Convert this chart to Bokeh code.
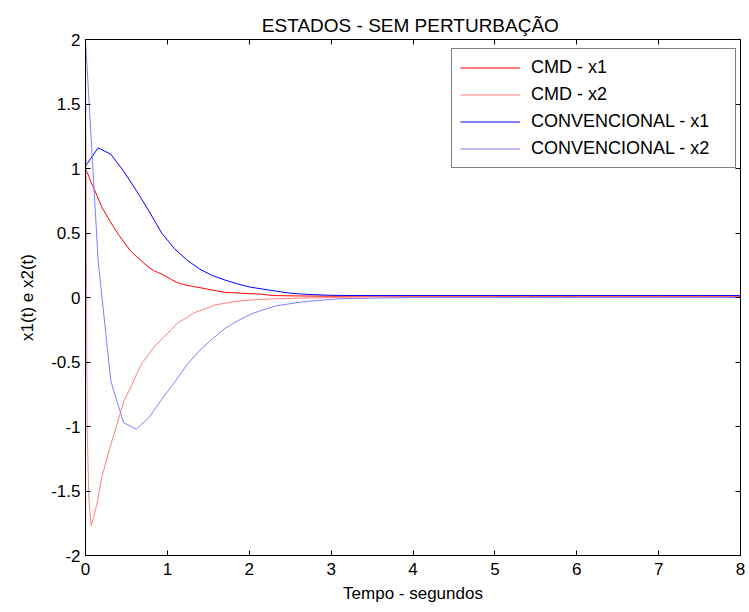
from bokeh.plotting import figure
from bokeh.models import Range1d, FixedTicker, LinearAxis, Legend, LegendItem
from bokeh.embed import file_html
from bokeh.resources import INLINE

# ---------------- data ----------------
conv_t = [0, 0.155, 0.31, 0.465, 0.62, 0.775, 0.93, 1.085, 1.24, 1.395, 1.55, 1.705,
          1.86, 2.015, 2.17, 2.325, 2.48, 2.635, 2.79, 2.945, 3.1, 3.5, 4.0, 4.5, 5.0,
          5.5, 6.0, 6.5, 7.0, 7.5, 8.0]
conv_x1 = [1.02, 1.16, 1.11, 0.98, 0.83, 0.67, 0.50, 0.38, 0.29, 0.22, 0.17, 0.135,
           0.105, 0.08, 0.065, 0.05, 0.035, 0.027, 0.022, 0.018, 0.016, 0.015, 0.015,
           0.015, 0.015, 0.015, 0.015, 0.015, 0.015, 0.015, 0.015]
conv_x2 = [2.0, 0.28, -0.65, -0.97, -1.02, -0.93, -0.79, -0.66, -0.52, -0.41, -0.32,
           -0.24, -0.18, -0.13, -0.095, -0.065, -0.05, -0.035, -0.025, -0.017, -0.01,
           -0.005, 0.0, 0.0, 0.0, 0.0, 0.0, 0.0, 0.0, 0.0, 0.0]

cmd_t = [0, 0.02, 0.04, 0.07, 0.1, 0.14, 0.2, 0.3, 0.4, 0.47, 0.55, 0.62, 0.69, 0.76,
         0.83, 0.95, 1.05, 1.12, 1.2, 1.32, 1.45, 1.57, 1.7, 1.85, 2.0, 2.15, 2.3, 2.6,
         3.0, 3.5, 4.0, 4.5, 5.0, 5.4, 5.5, 5.8, 6.0, 6.5, 7.0, 7.5, 8.0]
cmd_x1 = [1.0, 0.97, 0.94, 0.89, 0.85, 0.79, 0.70, 0.59, 0.49, 0.43, 0.36, 0.32, 0.28,
          0.24, 0.21, 0.175, 0.14, 0.115, 0.10, 0.085, 0.07, 0.055, 0.04, 0.035, 0.03,
          0.025, 0.015, 0.012, 0.01, 0.01, 0.01, 0.01, 0.01, 0.005, 0.01, 0.005, 0.01,
          0.01, 0.01, 0.01, 0.01]
cmd_x2 = [2.0, -1.0, -1.55, -1.77, -1.70, -1.60, -1.39, -1.16, -0.95, -0.80, -0.70,
          -0.60, -0.51, -0.45, -0.39, -0.31, -0.25, -0.20, -0.17, -0.12, -0.09, -0.06,
          -0.045, -0.03, -0.02, -0.015, -0.01, -0.005, 0.0, 0.005, 0.005, 0.005, 0.005,
          0.005, 0.005, 0.005, 0.005, 0.005, 0.005, 0.005, 0.005]

x_ticks = [0, 1, 2, 3, 4, 5, 6, 7, 8]
x_tick_labels = ["0", "1", "2", "3", "4", "5", "6", "7", "8"]
y_ticks = [-2, -1.5, -1, -0.5, 0, 0.5, 1, 1.5, 2]
y_tick_labels = ["-2", "-1.5", "-1", "-0.5", "0", "0.5", "1", "1.5", "2"]

series_names = ["CMD - x1", "CMD - x2", "CONVENCIONAL - x1", "CONVENCIONAL - x2"]
series_colors = ["#ff0000", "#ff8080", "#0000ff", "#8080ff"]

FONT = "Liberation Sans"

p = figure(width=749, height=612, output_backend="svg", toolbar_location=None,
           x_range=Range1d(0, 8), y_range=Range1d(-2, 2),
           min_border_left=85, min_border_right=9, min_border_top=39,
           min_border_bottom=57, title="ESTADOS -  SEM PERTURBAÇÃO")
p.background_fill_color = "white"
p.border_fill_color = "white"
p.outline_line_color = "black"
p.grid.visible = False

p.title.align = "center"
p.title.text_font = FONT
p.title.text_font_size = "19px"
p.title.text_font_style = "normal"
p.title.text_color = "black"
p.title.standoff = 8

xt = FixedTicker(ticks=x_ticks)
yt = FixedTicker(ticks=y_ticks)


def style_axis(ax, ticker, labels, show):
    ax.ticker = ticker
    ax.major_tick_in = 5
    ax.major_tick_out = 0
    ax.minor_tick_line_color = None
    ax.axis_line_color = "black"
    ax.axis_line_width = 1
    ax.major_tick_line_color = "black"
    ax.major_label_text_font = FONT
    if show:
        ax.major_label_overrides = {float(k): v for k, v in zip(ticker.ticks, labels)}
        ax.major_label_text_font_size = "17px"
        ax.major_label_text_color = "black"
    else:
        ax.major_label_text_font_size = "0px"
        ax.major_label_text_color = None
        ax.major_label_standoff = 0


style_axis(p.xaxis[0], xt, x_tick_labels, True)
style_axis(p.yaxis[0], yt, y_tick_labels, True)
p.xaxis[0].major_label_standoff = 7
p.yaxis[0].major_label_standoff = 5
p.xaxis[0].axis_label = "Tempo - segundos"
p.yaxis[0].axis_label = "x1(t) e x2(t)"
for ax in (p.xaxis[0], p.yaxis[0]):
    ax.axis_label_text_font = FONT
    ax.axis_label_text_font_size = "17px"
    ax.axis_label_text_font_style = "normal"
    ax.axis_label_text_color = "black"
p.xaxis[0].axis_label_standoff = 6
p.yaxis[0].axis_label_standoff = 11

top_ax = LinearAxis()
style_axis(top_ax, xt, x_tick_labels, False)
p.add_layout(top_ax, "above")
right_ax = LinearAxis()
style_axis(right_ax, yt, y_tick_labels, False)
p.add_layout(right_ax, "right")

r1 = p.line(cmd_t, cmd_x1, line_color=series_colors[0], line_width=1)
r2 = p.line(cmd_t, cmd_x2, line_color=series_colors[1], line_width=1)
r3 = p.line(conv_t, conv_x1, line_color=series_colors[2], line_width=1)
r4 = p.line(conv_t, conv_x2, line_color=series_colors[3], line_width=1)

legend = Legend(items=[LegendItem(label=n, renderers=[r]) for n, r in
                       zip(series_names, [r1, r2, r3, r4])],
                location=(366, 387))
legend.label_text_font = FONT
legend.label_text_font_size = "18px"
legend.label_text_color = "black"
legend.border_line_color = "black"
legend.border_line_width = 1
legend.background_fill_color = "white"
legend.background_fill_alpha = 1
legend.glyph_width = 60
legend.glyph_height = 21
legend.label_height = 21
legend.label_width = 196
legend.label_standoff = 11
legend.spacing = 6
legend.padding = 8
legend.margin = 0
p.add_layout(legend, "center")

open("out.html", "w").write(file_html(p, INLINE))
